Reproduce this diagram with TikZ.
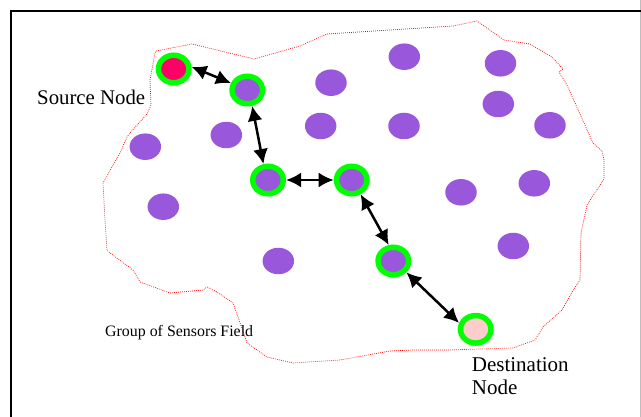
\documentclass[tikz,border=0pt]{standalone}
\usepackage{fontspec}
\setmainfont{Liberation Serif}
\usetikzlibrary{shapes.geometric,arrows.meta}

\definecolor{sensor}{RGB}{153,87,219}
\definecolor{ring}{RGB}{0,255,0}
\definecolor{srcfill}{RGB}{255,0,102}
\definecolor{dstfill}{RGB}{255,204,204}
\definecolor{shadow}{RGB}{190,190,190}

\tikzset{
  sensornode/.style={ellipse, fill=sensor, draw=none, inner sep=0pt,
    minimum width=31.5pt, minimum height=26.5pt},
  pathnode/.style={ellipse, draw=ring, line width=5.5pt, fill=#1, inner sep=0pt,
    minimum width=30.5pt, minimum height=27.5pt},
  hop/.style={line width=2.5pt, black,
    {Latex[length=15pt,width=15pt]}-{Latex[length=15pt,width=15pt]}},
  fieldline/.style={red, line width=0.7pt, dash pattern=on 0.8pt off 1.2pt},
  label/.style={inner sep=0pt, anchor=base west},
}

\begin{document}
\begin{tikzpicture}[x=1pt, y=-1pt]
\useasboundingbox (0,0) rectangle (641,417);

% frame
\draw[shadow, line width=1pt] (640,0) -- (640,417);
\draw[black, line width=1.6pt] (10.8,417) -- (10.8,10.8) -- (641,10.8);

% boundary of the sensor field
\draw[fieldline] (156,51) -- (192,44) -- (254,59) -- (300,46) -- (327,34)
  -- (453,26) -- (477,21) -- (504,40) -- (530,44) -- (552,57) -- (563,69)
  -- (559,72) -- (567,85) -- (593,143) -- (602,151) -- (604,160) -- (604,179)
  -- (587,205) -- (581,233) -- (580,280) -- (572,292) -- (562,310) -- (543,327)
  -- (535,340) -- (513,348) -- (447,350) -- (413,350) -- (390,351) -- (340,360)
  -- (293,363) -- (267,357) -- (247,343) -- (238,317) -- (233,303) -- (217,292)
  -- (207,287) -- (203,290) -- (170,293) -- (140,282) -- (133,270) -- (110,253)
  -- (107,250) -- (105,220) -- (103,183) -- (120,153) -- (127,137) -- (130,133)
  -- (147,114) -- (151,105) -- (150,80) -- (155,53) -- cycle;

% ordinary sensors
\node[sensornode] (p1)  at (404.3,56.7) {};
\node[sensornode] (p2)  at (500.5,63.3) {};
\node[sensornode] (p3)  at (331,82.7) {};
\node[sensornode] (p4)  at (498.3,104) {};
\node[sensornode] (p5)  at (226.3,135) {};
\node[sensornode] (p6)  at (320.7,126) {};
\node[sensornode] (p7)  at (404,126) {};
\node[sensornode] (p8)  at (550,125.3) {};
\node[sensornode] (p9)  at (145.3,146.7) {};
\node[sensornode] (p10) at (461,192.3) {};
\node[sensornode] (p11) at (534.3,183.3) {};
\node[sensornode] (p12) at (163.3,206.7) {};
\node[sensornode] (p13) at (513.3,246) {};
\node[sensornode] (p14) at (278.3,261) {};

% route from source to destination
\node[pathnode=srcfill] (src) at (173.7,69) {};
\node[pathnode=sensor]  (r1)  at (247.3,90) {};
\node[pathnode=sensor]  (r2)  at (268,180) {};
\node[pathnode=sensor]  (r3)  at (351.7,180) {};
\node[pathnode=sensor]  (r4)  at (393.3,261) {};
\node[pathnode=dstfill] (dst) at (475.7,329.3) {};

\draw[hop] (src.7)   -- (r1.157);
\draw[hop] (r1.-73)  -- (r2.106);
\draw[hop] (r2.east) -- (r3.west);
\draw[hop] (r3.-58)  -- (r4.106);
\draw[hop] (r4.-41)  -- (dst.159);

% labels
\node[label, font=\fontsize{20.8}{24}\selectfont] (srclabel) at (37,104.3) {Source Node};
\node[label, font=\fontsize{21}{24}\selectfont] (dstlabel1) at (471.7,371.7) {Destination};
\node[label, font=\fontsize{21}{24}\selectfont] (dstlabel2) at (471.7,395) {Node};
\node[label, font=\fontsize{15.9}{18}\selectfont] (fieldlabel) at (105,336.7) {Group of Sensors Field};
\end{tikzpicture}
\end{document}
